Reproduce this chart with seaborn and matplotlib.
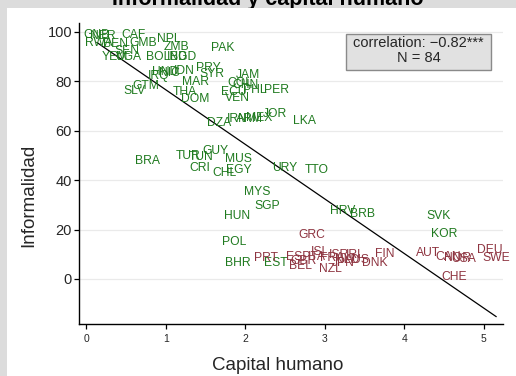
import numpy as np
import pandas as pd
import matplotlib
matplotlib.use("Agg")
import matplotlib.pyplot as plt
import seaborn as sns
from matplotlib.patches import Rectangle

# ---------------- data ----------------
green_codes = ["GNB", "NER", "CAF", "NPL", "RWA", "BEN", "SEN", "GMB", "ZMB", "PAK",
               "YEM", "UGA", "BOL", "IND", "BGD",
               "HND", "NIC", "IRQ", "IDN", "PRY", "SYR", "MAR", "JAM", "COL", "CHN",
               "ECU", "VEN", "PHL", "PER", "GTM", "SLV", "THA", "DOM",
               "DZA", "IRN", "ARM", "MEX", "JOR", "LKA",
               "GUY", "TUR", "TUN", "MUS", "CRI", "CHL", "EGY", "BRA", "URY", "TTO",
               "MYS", "SGP", "HUN", "HRV", "BRB", "SVK", "KOR", "POL", "BHR", "EST"]
green_x = [0.13, 0.21, 0.59, 1.04, 0.16, 0.36, 0.51, 0.71, 1.13, 1.72,
           0.36, 0.52, 0.90, 1.14, 1.22,
           0.99, 1.05, 0.91, 1.23, 1.54, 1.58, 1.37, 2.03, 1.93, 2.00,
           1.86, 1.90, 2.12, 2.39, 0.75, 0.61, 1.24, 1.37,
           1.67, 1.90, 2.05, 2.17, 2.37, 2.74,
           1.62, 1.28, 1.44, 1.91, 1.43, 1.74, 1.92, 0.77, 2.50, 2.90,
           2.15, 2.27, 1.90, 3.23, 3.48, 4.43, 4.51, 1.86, 1.90, 2.39]
green_y = [99.4, 99.0, 99.4, 97.8, 95.8, 95.4, 92.9, 95.8, 94.5, 94.1,
           90.5, 90.5, 90.5, 90.5, 90.5,
           84.4, 84.0, 82.8, 84.8, 85.7, 83.6, 80.4, 83.2, 80.0, 79.2,
           76.0, 73.9, 77.2, 77.2, 78.8, 76.4, 76.0, 73.5,
           63.8, 65.1, 65.1, 65.5, 67.5, 64.6,
           52.5, 50.5, 50.1, 49.3, 45.3, 43.6, 44.8, 48.1, 45.3, 44.8,
           35.6, 30.3, 25.9, 27.9, 26.7, 25.9, 18.6, 15.4, 6.9, 6.9]

red_codes = ["GRC", "PRT", "ESP", "GBR", "BEL", "ISL", "ITA", "FRA", "ISR", "IRL",
             "NLD", "JPN", "NZL", "AUS", "DNK", "FIN", "AUT", "CAN", "NOR", "USA",
             "DEU", "SWE", "CHE"]
red_x = [2.84, 2.26, 2.66, 2.73, 2.69, 2.94, 2.90, 3.09, 3.18, 3.39,
         3.28, 3.23, 3.07, 3.41, 3.63, 3.76, 4.30, 4.55, 4.67, 4.75,
         5.08, 5.16, 4.63]
red_y = [18.2, 8.9, 9.3, 7.7, 5.7, 11.7, 9.3, 8.9, 10.1, 10.5,
         8.1, 6.9, 4.8, 8.1, 6.9, 10.9, 11.3, 9.3, 8.9, 8.5,
         12.5, 8.9, 1.6]

title = "Informalidad y capital humano"
x_title = "Capital humano"
y_title = "Informalidad"
x_ticks = [0, 1, 2, 3, 4, 5]
y_ticks = [0, 20, 40, 60, 80, 100]
corr_line = "correlation: \u22120.82***"
n_line = "N = 84"

GREEN = "#1f7a1f"
RED = "#8e3440"

# ---------------- figure ----------------
sns.set_style("white")
plt.rcParams["font.family"] = ["Liberation Sans", "DejaVu Sans"]

W, H = 516, 376
fig = plt.figure(figsize=(W / 100, H / 100), dpi=100, facecolor="#dcdcdc")

fig.text(0.518, 1 - 4.5 / H, title, ha="center", va="baseline",
         fontsize=15.5, fontweight="bold", color="black", zorder=1)
fig.patches.append(Rectangle((7 / W, 0), 1 - 7 / W, 1 - 8 / H,
                             transform=fig.transFigure, facecolor="white",
                             edgecolor="none", zorder=2))

ax_l, ax_r, ax_b, ax_t = 79, 503, 324, 22.7
ax = fig.add_axes([ax_l / W, 1 - ax_b / H, (ax_r - ax_l) / W, (ax_b - ax_t) / H])
ax.set_facecolor("white")
ax.set_zorder(3)

df = pd.DataFrame({
    "code": green_codes + red_codes,
    "x": green_x + red_x,
    "y": green_y + red_y,
    "grp": ["g"] * len(green_codes) + ["r"] * len(red_codes),
})

sns.regplot(data=df, x="x", y="y", scatter=False, ci=None, truncate=True,
            color="black", line_kws={"lw": 0.9, "zorder": 2}, ax=ax)

for code, x, y, grp in zip(df["code"], df["x"], df["y"], df["grp"]):
    ax.text(x, y, code, ha="center", va="center_baseline",
            fontsize=8.7, color=GREEN if grp == "g" else RED, zorder=3)

ax.set_xlim(-0.094, 5.245)
ax.set_ylim(-18.2, 103.6)
ax.set_xticks(x_ticks)
ax.set_yticks(y_ticks)
ax.set_xticklabels([str(t) for t in x_ticks], fontsize=7.5)
ax.set_yticklabels([str(t) for t in y_ticks], fontsize=10.5)
ax.tick_params(axis="both", direction="out", length=3.5, width=0.9, color="black",
               bottom=True, left=True)
ax.tick_params(axis="y", pad=1.5)
ax.tick_params(axis="x", pad=3.5)

ax.yaxis.grid(True, color="#eaeaea", lw=0.9)
ax.xaxis.grid(False)
ax.set_axisbelow(True)
for s in ["top", "right"]:
    ax.spines[s].set_visible(False)
for s in ["left", "bottom"]:
    ax.spines[s].set_color("black")
    ax.spines[s].set_linewidth(1.0)

ax.set_xlabel("")
ax.set_ylabel("")
fig.text(278 / W, 1 - 366 / H, x_title, ha="center", va="center",
         fontsize=13.5, zorder=4)
fig.text(28.5 / W, 1 - 195 / H, y_title, ha="center", va="center",
         rotation=90, fontsize=13.5, zorder=4)

# correlation box
bx0, bx1, by0, by1 = 346, 491, 34, 70
ax.add_patch(Rectangle(((bx0 - ax_l) / (ax_r - ax_l), (ax_b - by1) / (ax_b - ax_t)),
                       (bx1 - bx0) / (ax_r - ax_l), (by1 - by0) / (ax_b - ax_t),
                       transform=ax.transAxes, facecolor="#e1e1e1",
                       edgecolor="#8a8a8a", lw=1.0, zorder=4))
cx = ((bx0 + bx1) / 2 - ax_l) / (ax_r - ax_l)
ax.text(cx, (ax_b - 43) / (ax_b - ax_t), corr_line, transform=ax.transAxes,
        ha="center", va="center", fontsize=10.5, zorder=5)
ax.text(cx, (ax_b - 58) / (ax_b - ax_t), n_line, transform=ax.transAxes,
        ha="center", va="center", fontsize=10.5, zorder=5)

fig.savefig("out.png", dpi=100, facecolor=fig.get_facecolor())
